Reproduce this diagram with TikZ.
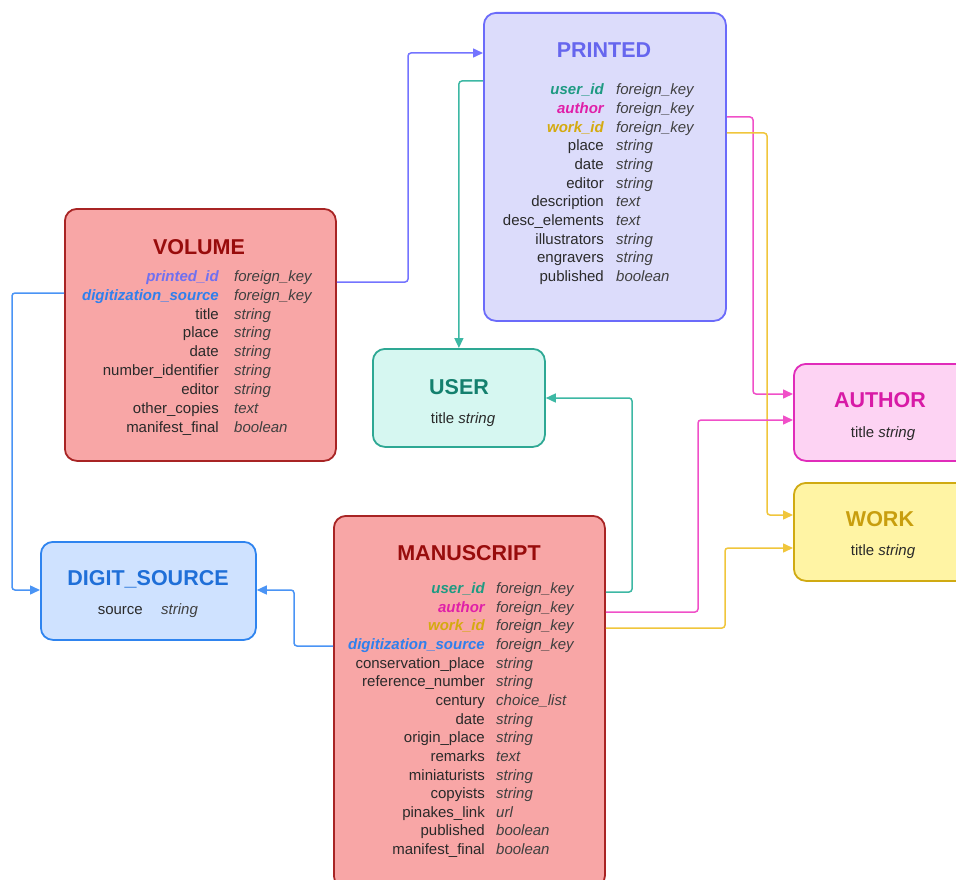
\documentclass[tikz,border=0pt]{standalone}
\usepackage{fontspec}
\setmainfont{Liberation Sans}
\usetikzlibrary{arrows.meta}
\definecolor{txtdark}{HTML}{2A2A2A}
\definecolor{typegray}{HTML}{404040}
% entity colours
\definecolor{prfill}{HTML}{DCDCFB}\definecolor{prdraw}{HTML}{6B6BFA}\definecolor{prtitle}{HTML}{6666EE}
\definecolor{rdfill}{HTML}{F8A6A6}\definecolor{rddraw}{HTML}{A82424}\definecolor{rdtitle}{HTML}{980C0C}
\definecolor{usfill}{HTML}{D6F7F1}\definecolor{usdraw}{HTML}{2EA894}\definecolor{ustitle}{HTML}{14806E}
\definecolor{aufill}{HTML}{FDD3F3}\definecolor{audraw}{HTML}{E02CBA}\definecolor{autitle}{HTML}{D81AA6}
\definecolor{wkfill}{HTML}{FFF4A4}\definecolor{wkdraw}{HTML}{D0AA12}\definecolor{wktitle}{HTML}{C89E0E}
\definecolor{dsfill}{HTML}{CFE2FF}\definecolor{dsdraw}{HTML}{2F84EF}\definecolor{dstitle}{HTML}{1F6FD8}
% key text colours
\definecolor{kteal}{HTML}{1E9A82}\definecolor{kpink}{HTML}{E020A8}\definecolor{kgold}{HTML}{D4AA10}
\definecolor{kviolet}{HTML}{7070F0}\definecolor{kblue}{HTML}{2F80ED}
% connector colours
\definecolor{cviolet}{HTML}{7474FF}\definecolor{cteal}{HTML}{3DB8A4}\definecolor{cpink}{HTML}{F050C8}
\definecolor{cgold}{HTML}{F0C63C}\definecolor{cblue}{HTML}{4A94F5}
\tikzset{
  ent/.style={draw, rounded corners=12pt, line width=1.8pt, anchor=north west, inner sep=0pt},
  ttl/.style={font=\fontsize{21.5}{24}\selectfont\bfseries, inner sep=0pt},
  fname/.style={anchor=mid east, font=\fontsize{15}{17}\selectfont, text=txtdark, inner sep=0pt},
  fkey/.style={anchor=mid east, font=\fontsize{15}{17}\selectfont\bfseries\itshape, inner sep=0pt},
  ftype/.style={anchor=mid west, font=\fontsize{15}{17}\selectfont\itshape, text=typegray, inner sep=0pt},
  fplain/.style={font=\fontsize{15}{17}\selectfont, text=txtdark, inner sep=0pt},
  conn/.style={line width=1.5pt, rounded corners=3pt, -{Triangle[length=10pt,width=9pt]}},
}
\begin{document}
\begin{tikzpicture}[x=1pt,y=-1pt]
\useasboundingbox (0,0) rectangle (956,880);
\clip (0,0) rectangle (956,880);
\fill[white] (0,0) rectangle (956,880);

% ---------- entity boxes ----------
\node[ent, fill=prfill, draw=prdraw, minimum width=242pt, minimum height=308pt] (printed) at (483,12) {};
\node[ent, fill=rdfill, draw=rddraw, minimum width=271pt, minimum height=252pt] (volume) at (64,208) {};
\node[ent, fill=usfill, draw=usdraw, minimum width=172pt, minimum height=98pt] (user) at (372,348) {};
\node[ent, fill=aufill, draw=audraw, minimum width=185pt, minimum height=97pt] (author) at (793,363) {};
\node[ent, fill=wkfill, draw=wkdraw, minimum width=185pt, minimum height=98pt] (work) at (793,482) {};
\node[ent, fill=dsfill, draw=dsdraw, minimum width=215pt, minimum height=98pt] (digit) at (40,541) {};
\node[ent, fill=rdfill, draw=rddraw, minimum width=271pt, minimum height=372pt] (manuscript) at (333,515) {};

% ---------- titles ----------
\node[ttl, text=prtitle] (printedT) at (604,50) {PRINTED};
\node[ttl, text=rdtitle] (volumeT) at (199,247) {VOLUME};
\node[ttl, text=ustitle] (userT) at (459,387) {USER};
\node[ttl, text=autitle] (authorT) at (880,400) {AUTHOR};
\node[ttl, text=wktitle] (workT) at (880,519) {WORK};
\node[ttl, text=dstitle] (digitT) at (148,579) {DIGIT\_SOURCE};
\node[ttl, text=rdtitle] (manuscriptT) at (469,553) {MANUSCRIPT};

% ---------- small entities' fields ----------
\node[fplain] (userF) at (463,420) {title \textit{string}};
\node[fplain] (authorF) at (883,434) {title \textit{string}};
\node[fplain] (workF) at (883,552) {title \textit{string}};
\node[fplain, anchor=mid east] (digitFn) at (143,612) {source};
\node[ftype] (digitFt) at (161,612) {string};

% ---------- PRINTED fields ----------
\foreach \n/\t/\c [count=\i] in {user\_id/foreign\_key/kteal, author/foreign\_key/kpink, work\_id/foreign\_key/kgold}{
  \node[fkey, text=\c] (pn\i) at (604,{92+(\i-1)*18.7}) {\n};
  \node[ftype] (pt\i) at (616,{92+(\i-1)*18.7}) {\t};
}
\foreach \n/\t [count=\i from 4] in {place/string, date/string, editor/string, description/text, desc\_elements/text, illustrators/string, engravers/string, published/boolean}{
  \node[fname] (pn\i) at (604,{92+(\i-1)*18.7}) {\n};
  \node[ftype] (pt\i) at (616,{92+(\i-1)*18.7}) {\t};
}

% ---------- VOLUME fields ----------
\foreach \n/\t/\c [count=\i] in {printed\_id/foreign\_key/kviolet, digitization\_source/foreign\_key/kblue}{
  \node[fkey, text=\c] (vn\i) at (219,{278.5+(\i-1)*18.95}) {\n};
  \node[ftype] (vt\i) at (234,{278.5+(\i-1)*18.95}) {\t};
}
\foreach \n/\t [count=\i from 3] in {title/string, place/string, date/string, number\_identifier/string, editor/string, other\_copies/text, manifest\_final/boolean}{
  \node[fname] (vn\i) at (219,{278.5+(\i-1)*18.95}) {\n};
  \node[ftype] (vt\i) at (234,{278.5+(\i-1)*18.95}) {\t};
}

% ---------- MANUSCRIPT fields ----------
\foreach \n/\t/\c [count=\i] in {user\_id/foreign\_key/kteal, author/foreign\_key/kpink, work\_id/foreign\_key/kgold, digitization\_source/foreign\_key/kblue}{
  \node[fkey, text=\c] (mn\i) at (485,{591+(\i-1)*18.64}) {\n};
  \node[ftype] (mt\i) at (496,{591+(\i-1)*18.64}) {\t};
}
\foreach \n/\t [count=\i from 5] in {conservation\_place/string, reference\_number/string, century/choice\_list, date/string, origin\_place/string, remarks/text, miniaturists/string, copyists/string, pinakes\_link/url, published/boolean, manifest\_final/boolean}{
  \node[fname] (mn\i) at (485,{591+(\i-1)*18.64}) {\n};
  \node[ftype] (mt\i) at (496,{591+(\i-1)*18.64}) {\t};
}

% ---------- connectors ----------
\draw[conn, cviolet] (volume.east |- 0,282) -| (408,53) -- (printed.west |- 0,53);
\draw[conn, cblue]   (volume.west |- 0,293) -| (12,590) -- (digit.west |- 0,590);
\draw[conn, cteal]   (printed.west |- 0,81) -| (user.north);
\draw[conn, cpink]   (printed.east |- 0,117) -| (753,394) -- (author.west |- 0,394);
\draw[conn, cgold]   (printed.east |- 0,133) -| (767,515) -- (work.west |- 0,515);
\draw[conn, cteal]   (manuscript.east |- 0,592) -| (632,398) -- (user.east |- 0,398);
\draw[conn, cpink]   (manuscript.east |- 0,612) -| (698,420) -- (author.west |- 0,420);
\draw[conn, cgold]   (manuscript.east |- 0,628) -| (725,548) -- (work.west |- 0,548);
\draw[conn, cblue]   (manuscript.west |- 0,646) -| (294,590) -- (digit.east |- 0,590);
\end{tikzpicture}
\end{document}
